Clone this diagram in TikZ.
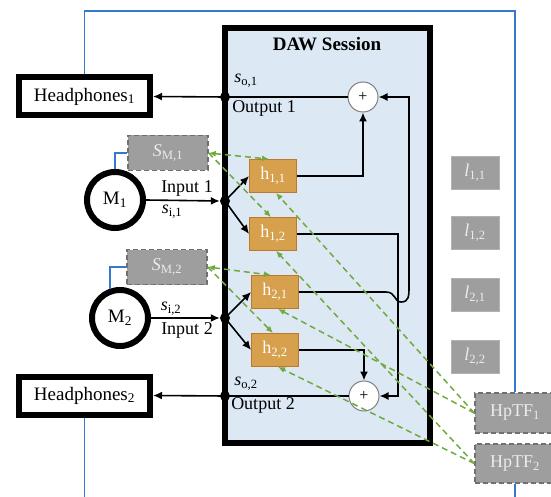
\documentclass[tikz,border=0pt]{standalone}
\usepackage{fontspec}
\setmainfont{Liberation Serif}
\usetikzlibrary{arrows.meta,calc}
\definecolor{dawblue}{RGB}{220,233,245}
\definecolor{hfill}{RGB}{214,160,76}
\definecolor{hdraw}{RGB}{190,120,45}
\definecolor{gfill}{RGB}{158,158,158}
\definecolor{gdraw}{RGB}{112,112,112}
\definecolor{ltext}{RGB}{236,236,236}
\definecolor{grn}{RGB}{112,170,62}
\definecolor{bl}{RGB}{52,120,208}
\begin{document}
\begin{tikzpicture}[x=1pt,y=-1pt,
 font=\fontsize{18}{20}\selectfont,
 hpbox/.style={draw,line width=6pt,minimum width=131pt,minimum height=38pt,inner sep=0pt,fill=white,font=\fontsize{19}{21}\selectfont},
 mic/.style={circle,draw,line width=6pt,minimum size=56pt,inner sep=0pt,fill=white,font=\fontsize{19}{21}\selectfont},
 hbox/.style={fill=hfill,draw=hdraw,line width=0.8pt,minimum width=47pt,minimum height=33pt,inner sep=0pt,text=white},
 sbox/.style={fill=gfill,draw=gdraw,dash pattern=on 5pt off 3pt,line width=1.5pt,minimum width=80pt,minimum height=35pt,inner sep=0pt,text=ltext},
 lbox/.style={fill=gfill,draw=gray!60,line width=0.8pt,minimum width=48pt,minimum height=33pt,inner sep=0pt,text=ltext},
 plusnode/.style={circle,fill=white,draw=gray,line width=1pt,minimum size=30pt,inner sep=0pt,font=\fontsize{16}{16}\selectfont},
 jdot/.style={circle,fill=black,minimum size=10pt,inner sep=0pt},
 wire/.style={line width=1.6pt},
 arr/.style={wire,-{Latex[length=9pt,width=8pt]}},
 leak/.style={grn,line width=1.5pt,dash pattern=on 6pt off 4pt},
 ltip/.style={-{Latex[length=7pt,width=6pt]}},
 bltip/.style={{Latex[length=7pt,width=6pt]}-{Latex[length=7pt,width=6pt]}},
 blue line/.style={bl,line width=1.8pt},
 lbl/.style={inner sep=0pt}
]
\useasboundingbox (0,0) rectangle (551,497);
\clip (0,0) rectangle (551,497);

% DAW session box
\node[draw,line width=6pt,fill=dawblue,minimum width=205pt,minimum height=415pt,inner sep=0pt] (daw) at (327.5,235.5) {};
\node[lbl,font=\fontsize{19}{21}\selectfont\bfseries] (title) at (327,44) {DAW Session};

% outside boxes
\node[hpbox] (hp1) at (84.5,96.5) {Headphones\textsubscript{1}};
\node[hpbox] (hp2) at (84.5,395.5) {Headphones\textsubscript{2}};
\node[mic] (m1) at (115,200) {M\textsubscript{1}};
\node[mic] (m2) at (120,318) {M\textsubscript{2}};
\node[sbox] (sm1) at (168,153) {\textit{S}\textsubscript{M,1}};
\node[sbox] (sm2) at (167,267) {\textit{S}\textsubscript{M,2}};

\node[lbox] (l11) at (475,173) {\textit{l}\textsubscript{1,1}};
\node[lbox] (l12) at (475,233) {\textit{l}\textsubscript{1,2}};
\node[lbox] (l21) at (475,295) {\textit{l}\textsubscript{2,1}};
\node[lbox] (l22) at (475,357) {\textit{l}\textsubscript{2,2}};

\node[sbox,minimum height=40pt] (hptf1) at (515,413) {HpTF\textsubscript{1}};
\node[sbox,minimum height=39pt] (hptf2) at (515,463.5) {HpTF\textsubscript{2}};

% inner nodes
\node[hbox] (h11) at (273,176) {h\textsubscript{1,1}};
\node[hbox] (h12) at (273,234) {h\textsubscript{1,2}};
\node[hbox] (h21) at (275,292) {h\textsubscript{2,1}};
\node[hbox] (h22) at (275,350) {h\textsubscript{2,2}};
\node[plusnode] (p1) at (363,97) {+};
\node[plusnode] (p2) at (364,396) {+};

\node[jdot] (o1) at (225,97) {};
\node[jdot] (o2) at (225,396) {};
\node[jdot] (i1) at (225,201) {};
\node[jdot] (i2) at (225,318) {};

% labels
\node[lbl] (so1) at (246,81) {\textit{s}\textsubscript{o,1}};
\node[lbl] (out1) at (264,108) {Output 1};
\node[lbl] (so2) at (246,384) {\textit{s}\textsubscript{o,2}};
\node[lbl] (out2) at (263,405) {Output 2};
\node[lbl] (in1) at (187,188) {Input 1};
\node[lbl] (si1) at (172,212) {\textit{s}\textsubscript{i,1}};
\node[lbl] (si2) at (171,309) {\textit{s}\textsubscript{i,2}};
\node[lbl] (in2) at (187,330) {Input 2};

% blue wiring
\draw[blue line] (hp1.north) -- (hp1.north |- 0,11) -| (hptf1.north);
\draw[blue line] (hp2.south) -- (hp2.south |- 0,510) -| (hptf2.south);
\draw[blue line] (m1.north) |- (sm1.west);
\draw[blue line] (m2.109) |- (sm2.west);

% black signal wiring
\draw[arr] (o1.center) -- (hp1.east);
\draw[arr] (o2.center) -- (hp2.east);
\draw[wire] (o1.center) -- (p1.west);
\draw[wire] (o2.center) -- (p2.west);
\draw[arr] (m1.east) -- (i1.west);
\draw[arr] (m2.east) -- (i2.west);
\draw[arr] (i1.center) -- (h11.west);
\draw[arr] (i1.center) -- (h12.west);
\draw[arr] (i2.center) -- (h21.west);
\draw[arr] (i2.center) -- (h22.west);
\draw[arr] (h11.east) -| (p1.south);
\draw[arr] (h22.east) -| (p2.north);
\draw[arr] (h12.east) -- (h12.east -| 398,0) -- (398,396) -- (p2.east);
\draw[arr] (h21.east) -- (386,292) .. controls (396,292) and (394,302) .. (401,302)
   .. controls (409,302) and (409,296) .. (409,286) -- (409,97) -- (p1.east);

% green leakage paths
\draw[leak,bltip] (sm1.east) -- ([xshift=-4pt]h11.north);
\draw[leak,ltip] (sm1.east) -- ([xshift=-2pt]h12.north);
\draw[leak,bltip] (sm2.east) -- ([xshift=-4pt]h21.north);
\draw[leak,ltip] (sm2.east) -- ([xshift=-2pt]h22.north);
\draw[leak,ltip] (hptf1.west) -- ([xshift=3pt]h11.south);
\draw[leak,ltip] (hptf1.west) -- ([xshift=3pt]h21.south);
\draw[leak,ltip] (hptf2.west) -- ([xshift=3pt]h12.south);
\draw[leak,ltip] (hptf2.west) -- ([xshift=3pt]h22.south);
\end{tikzpicture}
\end{document}
